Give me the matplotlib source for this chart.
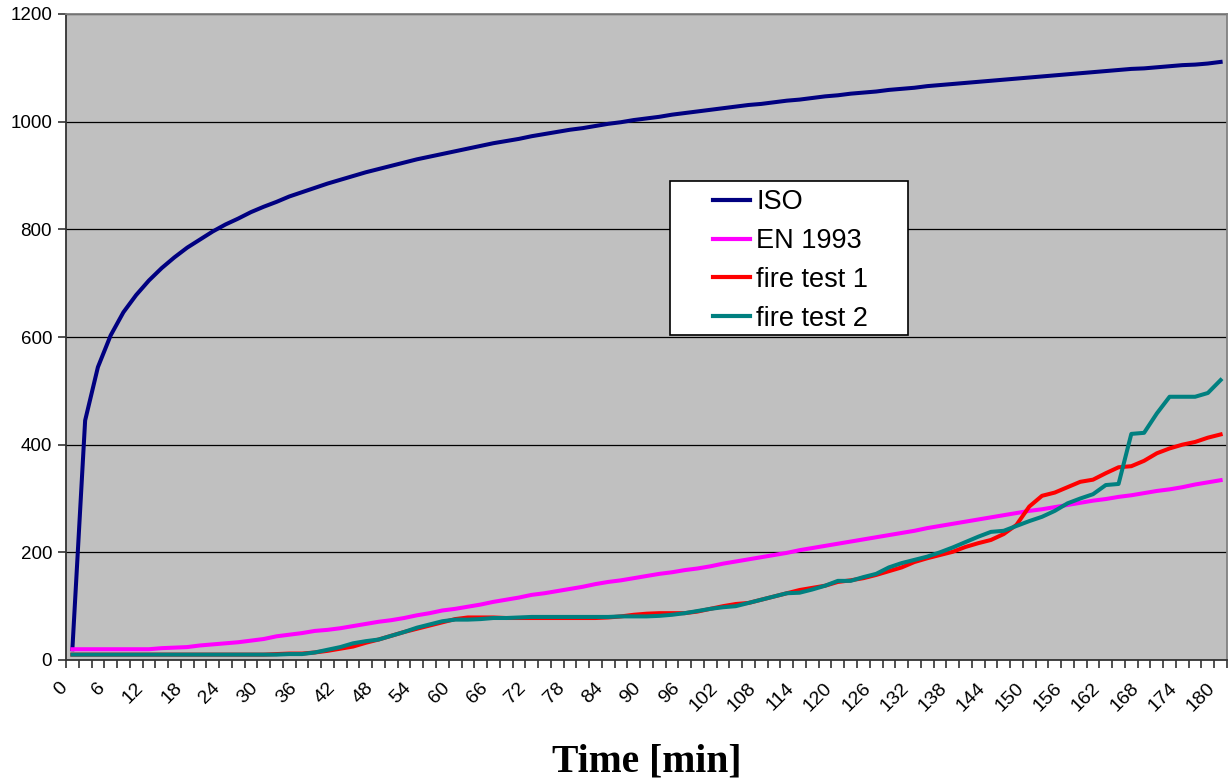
import numpy as np
import matplotlib
matplotlib.use("Agg")
import matplotlib.pyplot as plt
import matplotlib.transforms as mtrans
from matplotlib.patches import Rectangle

# time axis, minutes (category axis, every 2 min)
time_min = list(range(0, 182, 2))

iso = [20, 445, 544, 603, 646, 678, 705, 728, 748, 766, 781, 796, 809, 820, 832, 842,
       851, 861, 869, 877, 885, 892, 899, 906, 912, 918, 924, 930, 935, 940, 945, 950,
       955, 960, 964, 968, 973, 977, 981, 985, 988, 992, 996, 999, 1003, 1006, 1009, 1013,
       1016, 1019, 1022, 1025, 1028, 1031, 1033, 1036, 1039, 1041, 1044, 1047, 1049, 1052,
       1054, 1056, 1059, 1061, 1063, 1066, 1068, 1070, 1072, 1074, 1076, 1078, 1080, 1082,
       1084, 1086, 1088, 1090, 1092, 1094, 1096, 1098, 1099, 1101, 1103, 1105, 1106, 1108, 1111]

en1993 = [20, 20, 20, 20, 20, 20, 20, 22, 23, 24, 27, 29, 31, 33, 36, 39,
          44, 47, 50, 54, 56, 59, 63, 67, 71, 74, 78, 83, 87, 92, 95, 99,
          103, 108, 112, 116, 121, 124, 128, 132, 136, 141, 145, 148, 152, 156, 160, 163,
          167, 170, 174, 179, 183, 187, 191, 195, 199, 204, 208, 212, 216, 220, 224, 228,
          232, 236, 240, 245, 249, 253, 257, 261, 265, 269, 273, 277, 280, 284, 288, 292,
          296, 299, 303, 306, 310, 314, 317, 321, 326, 330, 334]

fire_test_1 = [10, 10, 10, 10, 10, 10, 10, 10, 10, 10, 10, 10, 10, 10, 10, 10,
               11, 12, 12, 14, 17, 21, 25, 32, 38, 45, 52, 58, 64, 70, 76, 79,
               79, 79, 78, 78, 78, 78, 78, 78, 78, 78, 79, 81, 84, 86, 87, 87,
               87, 90, 95, 100, 104, 106, 112, 118, 124, 130, 134, 138, 145, 148, 152, 158,
               165, 172, 182, 189, 195, 201, 210, 217, 223, 234, 251, 285, 305, 311, 321, 331,
               335, 347, 358, 360, 370, 384, 393, 400, 405, 413, 419]

fire_test_2 = [10, 10, 10, 10, 10, 10, 10, 10, 10, 10, 10, 10, 10, 10, 10, 10,
               10, 11, 11, 14, 19, 24, 31, 35, 38, 45, 52, 60, 66, 72, 75, 75,
               76, 78, 78, 79, 80, 80, 80, 80, 80, 80, 80, 81, 81, 81, 82, 84,
               87, 91, 95, 98, 100, 106, 112, 118, 124, 125, 131, 138, 147, 147, 154, 160,
               172, 180, 186, 192, 200, 209, 219, 229, 238, 240, 249, 258, 266, 277, 291, 300,
               308, 325, 327, 420, 422, 458, 489, 489, 489, 496, 520]

series = [("ISO", iso, "#000080"),
          ("EN 1993", en1993, "#FF00FF"),
          ("fire test 1", fire_test_1, "#FF0000"),
          ("fire test 2", fire_test_2, "#008080")]

plt.rcParams['font.family'] = ['Liberation Sans', 'DejaVu Sans']

fig = plt.figure(figsize=(12.31, 7.83), dpi=100)
ax = fig.add_axes([66/1231, 1 - 660/783, 1161/1231, 646/783])
ax.set_facecolor("#C0C0C0")

idx = np.arange(len(time_min))
for name, vals, col in series:
    ax.plot(idx, vals, color=col, lw=2.9, label=name, solid_joinstyle="round")

ax.set_xlim(-0.5, len(time_min) - 0.5)
ax.set_ylim(0, 1200)
ax.set_yticks(range(0, 1201, 200))
ax.yaxis.grid(True, color="black", lw=0.9)
ax.set_axisbelow(True)

# labels every 6 min, tick marks between categories
lab_idx = idx[::3]
ax.set_xticks(lab_idx)
ax.set_xticklabels([str(time_min[i]) for i in lab_idx], rotation=45,
                   ha="right", rotation_mode="anchor")
ax.set_xticks(np.arange(len(time_min) + 1) - 0.5, minor=True)
ax.tick_params(axis="x", which="major", length=0, pad=14, labelsize=14)
ax.tick_params(axis="x", which="minor", length=6, width=1.2, color="#333333")
ax.tick_params(axis="y", length=6, width=1.2, color="#333333", labelsize=13.5, pad=4)
shift = mtrans.ScaledTranslation(-14/100, 0, fig.dpi_scale_trans)
for lab in ax.get_xticklabels():
    lab.set_transform(lab.get_transform() + shift)

for s in ["left", "bottom"]:
    ax.spines[s].set_color("#333333")
    ax.spines[s].set_linewidth(1.3)
for s in ["top", "right"]:
    ax.spines[s].set_color("#808080")
    ax.spines[s].set_linewidth(1.3)

ax.set_xlabel("Time [min]", family=["Liberation Serif", "DejaVu Serif"],
              fontweight="bold", fontsize=28.5, labelpad=21)

# legend box (Excel style, wide padding)
box = Rectangle((0.520, 0.503), 0.205, 0.2385, transform=ax.transAxes,
                facecolor="white", edgecolor="black", lw=1.2, zorder=4)
ax.add_patch(box)
leg = ax.legend(loc="upper left", bbox_to_anchor=(0.5573, 0.7285), frameon=False,
                fontsize=19.5, handlelength=1.37, handletextpad=0.22,
                labelspacing=0.47, borderpad=0, borderaxespad=0)
leg.set_zorder(5)
for h in leg.get_lines():
    h.set_linewidth(3)

fig.savefig("out.png", dpi=100)
